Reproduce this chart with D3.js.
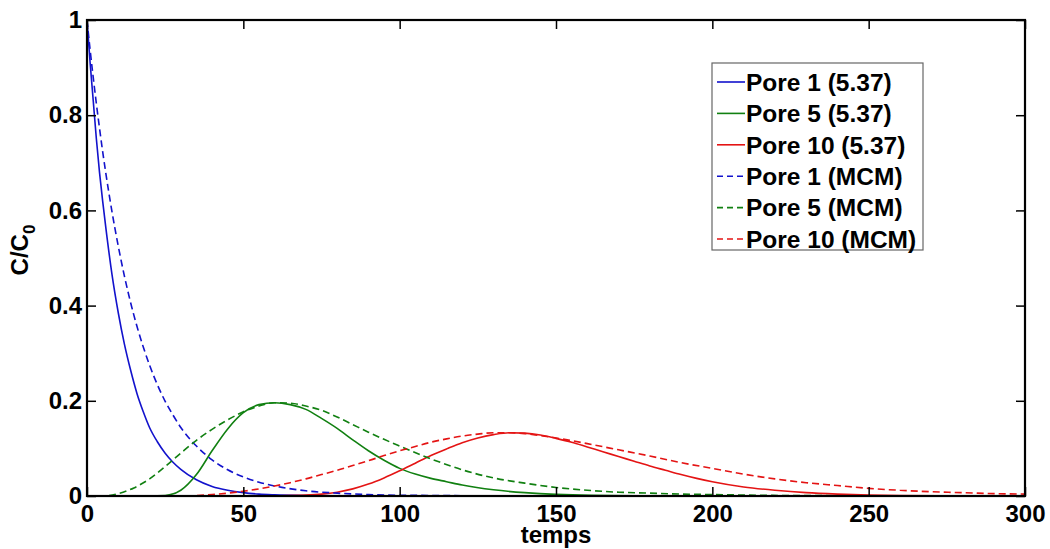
<!DOCTYPE html>
<html>
<head>
<meta charset="utf-8">
<script src="https://cdn.jsdelivr.net/npm/d3@7"></script>
<style>
  html, body { margin: 0; padding: 0; background: #fff; }
  svg { display: block; }
  text { font-family: Arial, "Liberation Sans", sans-serif; font-weight: bold; fill: #000; }
</style>
</head>
<body>
<svg id="chart" width="1050" height="549"></svg>
<script>
// ---------- data ----------
const xTicks = [0, 50, 100, 150, 200, 250, 300];
const yTicks = [0, 0.2, 0.4, 0.6, 0.8, 1];
const yTickLabels = ["0", "0.2", "0.4", "0.6", "0.8", "1"];

const tPore1 = [0,1,2,3,4,5,6,8,10,12,14,16,18,20,22.5,25,27.5,30,35,40,45,50,55,60,70,80,90,100,150,200,250,300];
const pore1Sim = [1,0.91,0.83,0.75,0.68,0.62,0.565,0.465,0.385,0.318,0.263,0.215,0.177,0.144,0.114,0.09,0.071,0.056,0.034,0.02,0.012,0.007,0.004,0.0025,0.001,0.0004,0.0002,0,0,0,0,0];
const pore1MCM = [1,0.937,0.879,0.824,0.773,0.724,0.679,0.597,0.525,0.461,0.405,0.356,0.313,0.275,0.234,0.199,0.17,0.144,0.105,0.076,0.055,0.04,0.029,0.021,0.011,0.006,0.003,0.0016,0.0001,0,0,0];

const tPore5Sim = [0,20,25,30,35,40,45,50,55,60,65,70,75,80,85,90,95,100,105,110,115,120,130,140,150,175,200,300];
const pore5Sim = [0,0,0.001,0.012,0.045,0.095,0.141,0.175,0.192,0.196,0.192,0.182,0.163,0.142,0.118,0.095,0.075,0.058,0.046,0.037,0.03,0.023,0.013,0.007,0.0035,0.0005,0,0];
const tPore5MCM = [0,5,10,15,20,25,30,35,40,45,50,55,60,65,70,75,80,85,90,95,100,110,120,130,140,150,160,170,180,190,200,225,250,300];
const pore5MCM = [0,0,0.005,0.017,0.036,0.062,0.09,0.117,0.14,0.16,0.177,0.189,0.196,0.195,0.189,0.18,0.166,0.15,0.134,0.119,0.105,0.078,0.055,0.038,0.027,0.018,0.012,0.008,0.006,0.004,0.003,0.001,0.0005,0];

const tPore10Sim = [0,50,60,70,75,80,85,90,95,100,105,110,115,120,125,130,135,140,145,150,155,160,165,170,175,180,185,190,195,200,210,220,230,240,250,260,280,300];
const pore10Sim = [0,0,0.0005,0.002,0.004,0.008,0.015,0.025,0.038,0.053,0.069,0.085,0.099,0.112,0.122,0.129,0.133,0.132,0.128,0.121,0.113,0.103,0.093,0.083,0.073,0.063,0.054,0.045,0.037,0.03,0.019,0.012,0.007,0.004,0.002,0.001,0.0003,0];
const tPore10MCM = [0,30,35,40,45,50,55,60,65,70,75,80,85,90,95,100,105,110,115,120,125,130,135,140,145,150,160,170,180,190,200,210,220,230,240,250,260,270,280,290,300];
const pore10MCM = [0,0,0.001,0.003,0.006,0.01,0.015,0.021,0.028,0.036,0.045,0.054,0.064,0.074,0.085,0.095,0.104,0.113,0.12,0.126,0.13,0.133,0.133,0.131,0.127,0.122,0.11,0.097,0.084,0.07,0.058,0.046,0.036,0.028,0.022,0.016,0.012,0.009,0.007,0.005,0.004];

const seriesNames = ["Pore 1 (5.37)", "Pore 5 (5.37)", "Pore 10 (5.37)", "Pore 1 (MCM)", "Pore 5 (MCM)", "Pore 10 (MCM)"];
const seriesColors = ["#1212cc", "#118011", "#e41414", "#1212cc", "#118011", "#e41414"];
const seriesDashed = [false, false, false, true, true, true];
const seriesT = [tPore1, tPore5Sim, tPore10Sim, tPore1, tPore5MCM, tPore10MCM];
const seriesV = [pore1Sim, pore5Sim, pore10Sim, pore1MCM, pore5MCM, pore10MCM];

// ---------- layout ----------
const svg = d3.select("#chart");
const L = 87, R = 1025, T = 20, B = 496;
const x = d3.scaleLinear().domain([0, 300]).range([L, R]);
const y = d3.scaleLinear().domain([0, 1]).range([B, T]);

svg.append("defs").append("clipPath").attr("id", "clip")
  .append("rect").attr("x", L).attr("y", T).attr("width", R - L).attr("height", B - T);

const line = d3.line().x(d => x(d[0])).y(d => y(d[1])).curve(d3.curveMonotoneX);
const plot = svg.append("g").attr("clip-path", "url(#clip)");
seriesNames.forEach((name, i) => {
  const pts = seriesT[i].map((t, k) => [t, seriesV[i][k]]);
  plot.append("path").datum(pts)
    .attr("d", line)
    .attr("fill", "none")
    .attr("stroke", seriesColors[i])
    .attr("stroke-width", 1.6)
    .attr("stroke-dasharray", seriesDashed[i] ? "7,4" : null);
});

// ---------- axes (MATLAB style: ticks inward on all sides) ----------
const tickLen = 9;
const FS = "24px";
const axBottom = d3.axisBottom(x).tickValues(xTicks).tickSize(-tickLen).tickPadding(9).tickFormat(d3.format("d"));
const axTop = d3.axisTop(x).tickValues(xTicks).tickSize(-tickLen).tickFormat("");
const axLeft = d3.axisLeft(y).tickValues(yTicks).tickSize(-tickLen).tickPadding(5).tickFormat((d, i) => yTickLabels[i]);
const axRight = d3.axisRight(y).tickValues(yTicks).tickSize(-tickLen).tickFormat("");

function style(g) {
  g.select(".domain").remove();
  g.selectAll(".tick line").attr("stroke", "#000").attr("stroke-width", 1.5);
  g.selectAll(".tick text").style("font-size", FS).style("font-weight", "bold")
    .style("font-family", "Arial, 'Liberation Sans', sans-serif").attr("fill", "#000");
}
svg.append("g").attr("transform", `translate(0,${B})`).call(axBottom).call(style);
svg.append("g").attr("transform", `translate(0,${T})`).call(axTop).call(style);
svg.append("g").attr("transform", `translate(${L},0)`).call(axLeft).call(style);
svg.append("g").attr("transform", `translate(${R},0)`).call(axRight).call(style);

svg.append("rect").attr("x", L).attr("y", T).attr("width", R - L).attr("height", B - T)
  .attr("fill", "none").attr("stroke", "#000").attr("stroke-width", 2.2);

// ---------- axis titles ----------
svg.append("text").attr("x", 556).attr("y", 543).attr("text-anchor", "middle")
  .style("font-size", FS).text("temps");

const yl = svg.append("text").attr("transform", "translate(28,250) rotate(-90)")
  .attr("text-anchor", "middle").style("font-size", FS);
yl.append("tspan").text("C/C");
yl.append("tspan").attr("dy", 7).style("font-size", "17px").text("0");

// ---------- legend ----------
const lg = svg.append("g");
lg.append("rect").attr("x", 712).attr("y", 63).attr("width", 211).attr("height", 187)
  .attr("fill", "#fff").attr("stroke", "#666").attr("stroke-width", 1.2);
seriesNames.forEach((name, i) => {
  const cy = 82 + i * 31.4;
  lg.append("line").attr("x1", 717).attr("x2", 745).attr("y1", cy).attr("y2", cy)
    .attr("stroke", seriesColors[i]).attr("stroke-width", 1.6)
    .attr("stroke-dasharray", seriesDashed[i] ? "6,4" : null);
  lg.append("text").attr("x", 746).attr("y", cy).attr("dy", "0.36em")
    .style("font-size", "24.5px").text(name);
});
</script>
</body>
</html>
